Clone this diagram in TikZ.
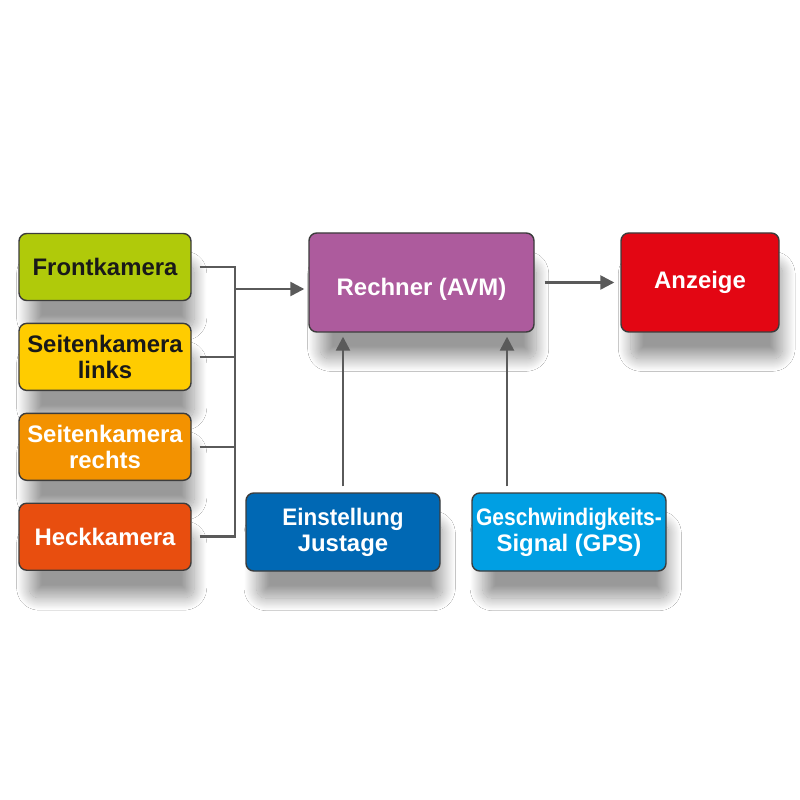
\documentclass[tikz,border=0pt]{standalone}
\usepackage{fontspec}
\setmainfont{Liberation Sans}
\usepackage{xcolor}
\usepackage{tikz}
\usetikzlibrary{arrows.meta, positioning, calc, shadows.blur}
\definecolor{camgreen}{RGB}{176,202,10}
\definecolor{camyellow}{RGB}{255,204,0}
\definecolor{camorange}{RGB}{243,146,0}
\definecolor{camred}{RGB}{232,78,15}
\definecolor{cpupurple}{RGB}{173,91,157}
\definecolor{dispred}{RGB}{227,6,19}
\definecolor{setblue}{RGB}{0,104,180}
\definecolor{gpsblue}{RGB}{0,159,227}
\definecolor{myborder}{RGB}{60,60,60}
\definecolor{mywire}{RGB}{90,90,90}
\definecolor{mytext}{RGB}{25,25,25}
\tikzset{
  box/.style={rectangle, draw=myborder, line width=0.4pt, rounded corners=2.2pt,
    align=center, font=\fontsize{6.8}{7.4}\selectfont\bfseries, inner sep=1pt,
    blur shadow={shadow xshift=0.07cm, shadow yshift=-0.3cm, shadow scale=0.96,
      shadow blur radius=0.13cm, shadow blur steps=30, shadow blur extra rounding=0.1cm,
      shadow opacity=40}},
  cambox/.style={box, minimum width=1.72cm, minimum height=0.67cm},
  inbox/.style={box, text=white, minimum width=1.94cm, minimum height=0.78cm},
  arrow/.style={-{Triangle[length=0.14cm, width=0.14cm]}, line width=0.7pt, color=mywire},
  line/.style={line width=0.7pt, color=mywire}
}

\begin{document}
\begin{tikzpicture}[node distance=0.215cm]
  \useasboundingbox[fill=white] (0,0) rectangle (8,-8);

  % cameras
  \node[cambox, fill=camgreen, text=mytext] (front) at (1.05,-2.67) {Frontkamera};
  \node[cambox, fill=camyellow, text=mytext, below=of front] (links) {Seitenkamera\\links};
  \node[cambox, fill=camorange, text=white, below=of links] (rechts) {Seitenkamera\\rechts};
  \node[cambox, fill=camred, text=white, below=of rechts] (heck) {Heckkamera};

  % computer and display
  \node[box, fill=cpupurple, text=white, minimum width=2.25cm, minimum height=0.99cm,
    text height=0.31cm] (avm) at (4.215,-2.825) {Rechner (AVM)};
  \node[box, fill=dispred, text=white, minimum width=1.58cm, minimum height=0.99cm]
    (anzeige) at (7.0,-2.825) {Anzeige};

  % inputs below
  \node[inbox, fill=setblue] (einst) at (3.43,-5.32)
    {\addfontfeatures{FakeStretch=0.94}Einstellung\\Justage};
  \node[inbox, fill=gpsblue] (gps) at (5.69,-5.32)
    {\addfontfeatures{FakeStretch=0.88}Geschwindigkeits-\\Signal (GPS)};

  % bus
  \coordinate (bus) at (2.35,-2.89);
  \foreach \cam in {front, links, rechts, heck}
    \draw[line] ([xshift=0.08cm]\cam.east) -| (bus);
  \draw[arrow, shorten >=0.04cm] (bus) -- (bus -| avm.west);

  % arrows
  \draw[arrow, shorten <=0.1cm, shorten >=0.06cm] (avm) -- (anzeige);
  \draw[arrow, shorten <=0.06cm, shorten >=0.04cm] (einst.north) -- (einst.north |- avm.south);
  \draw[arrow, shorten <=0.06cm, shorten >=0.04cm]
    ([xshift=-0.62cm]gps.north) -- ([xshift=-0.62cm]gps.north |- avm.south);
\end{tikzpicture}
\end{document}
